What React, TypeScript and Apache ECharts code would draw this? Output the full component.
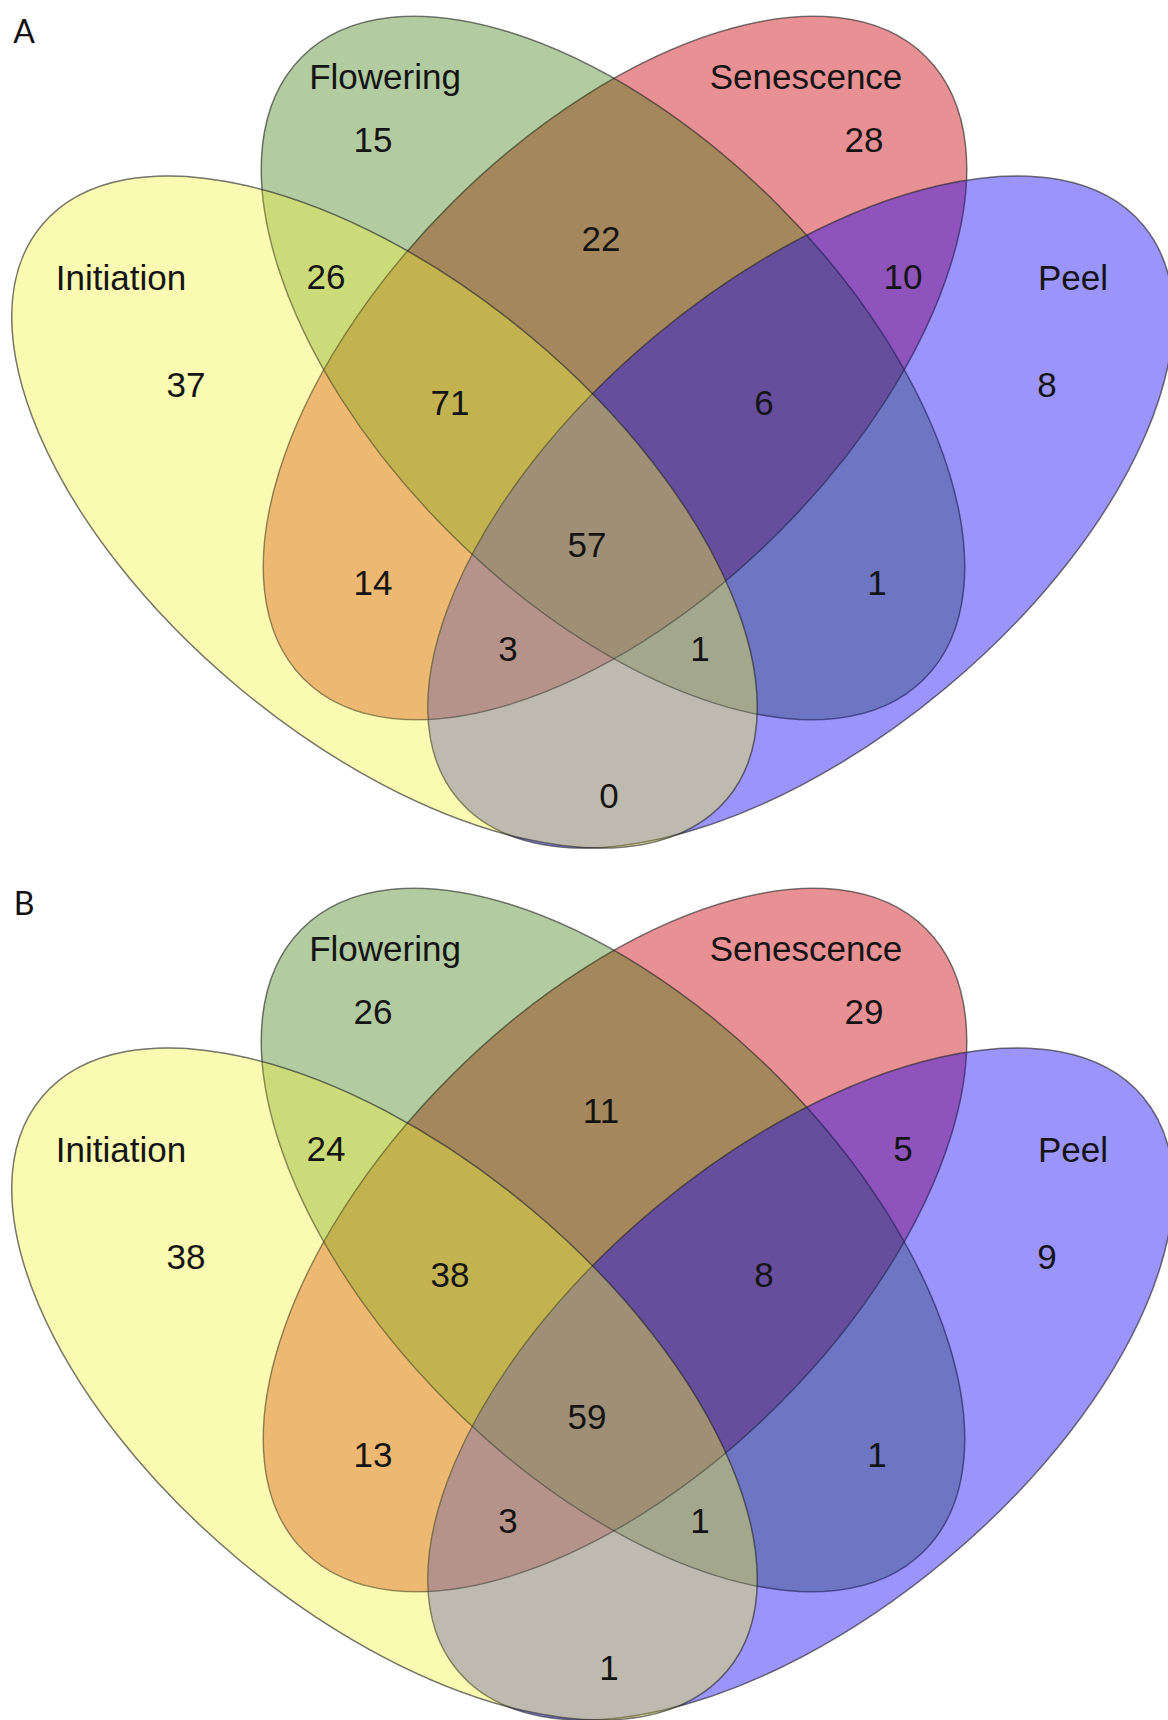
import React, { useEffect, useRef } from "react";
import * as echarts from "echarts";

// ---- Data ----
const setNames = ["Initiation", "Flowering", "Senescence", "Peel"];
const regionNames = [
  "Initiation only",
  "Flowering only",
  "Senescence only",
  "Peel only",
  "Initiation & Flowering",
  "Flowering & Senescence",
  "Senescence & Peel",
  "Initiation & Flowering & Senescence",
  "Flowering & Senescence & Peel",
  "All four",
  "Initiation & Senescence",
  "Flowering & Peel",
  "Initiation & Senescence & Peel",
  "Initiation & Flowering & Peel",
  "Initiation & Peel",
];
const countsA = [37, 15, 28, 8, 26, 22, 10, 71, 6, 57, 14, 1, 3, 1, 0];
const countsB = [38, 26, 29, 9, 24, 11, 5, 38, 8, 59, 13, 1, 3, 1, 1];
const panelLabels = ["A", "B"];

// ---- Layout (pixels, relative to each panel's top) ----
const panelOffsets = [0, 872];
const panelLabelPos = [24, 30];
const regionPos = [
  [186, 384],
  [373, 139],
  [864, 139],
  [1047, 384],
  [326, 276],
  [601, 238],
  [903, 276],
  [450, 402],
  [764, 402],
  [587, 544],
  [373, 582],
  [877, 582],
  [508, 648],
  [700, 648],
  [609, 795],
];
const setLabelPos = [
  [121, 277],
  [385, 76],
  [806, 76],
  [1073, 277],
];
// ellipse geometry per set (same order as setNames)
const ellipses = [
  { cx: 384.5, cy: 512, rx: 446.8, ry: 228.1, rot: -39.95 },
  { cx: 613, cy: 368, rx: 440, ry: 232, rot: -45 },
  { cx: 615, cy: 368, rx: 440, ry: 232, rot: 45 },
  { cx: 800.5, cy: 512, rx: 446.8, ry: 228.1, rot: 39.95 },
];
const fills = [
  "rgba(242,242,62,0.40)",
  "rgba(52,118,5,0.38)",
  "rgba(209,35,41,0.50)",
  "rgba(17,0,243,0.42)",
];
const drawOrder = [2, 1, 3, 0];
const textFont = "Liberation Sans, Arial, sans-serif";

export default function App() {
  const ref = useRef<HTMLDivElement>(null);
  useEffect(() => {
    const chart = echarts.init(ref.current as HTMLDivElement, null, { renderer: "svg" });
    const elements: any[] = [];
    panelOffsets.forEach((oy, p) => {
      const counts = p === 0 ? countsA : countsB;
      drawOrder.forEach((i) => {
        const e = ellipses[i];
        elements.push({
          type: "ellipse",
          x: e.cx,
          y: e.cy + oy,
          rotation: (e.rot * Math.PI) / 180,
          shape: { cx: 0, cy: 0, rx: e.rx, ry: e.ry },
          style: { fill: fills[i], stroke: "rgba(40,40,40,0.45)", lineWidth: 1.5 },
          silent: true,
        });
      });
      drawOrder.forEach((i) => {
        const e = ellipses[i];
        elements.push({
          type: "ellipse",
          x: e.cx,
          y: e.cy + oy,
          rotation: (e.rot * Math.PI) / 180,
          shape: { cx: 0, cy: 0, rx: e.rx, ry: e.ry },
          style: { fill: "none", stroke: "rgba(40,40,40,0.35)", lineWidth: 1.2 },
          silent: true,
        });
      });
      setNames.forEach((name, i) => {
        elements.push({
          type: "text",
          x: setLabelPos[i][0],
          y: setLabelPos[i][1] + oy,
          style: {
            text: name,
            fill: "#141414",
            fontSize: 35,
            fontFamily: textFont,
            align: "center",
            verticalAlign: "middle",
          },
          silent: true,
        });
      });
      regionNames.forEach((_, r) => {
        elements.push({
          type: "text",
          x: regionPos[r][0],
          y: regionPos[r][1] + oy,
          style: {
            text: String(counts[r]),
            fill: "#141414",
            fontSize: 35,
            fontFamily: textFont,
            align: "center",
            verticalAlign: "middle",
          },
          silent: true,
        });
      });
      elements.push({
        type: "text",
        x: panelLabelPos[0],
        y: panelLabelPos[1] + oy,
        style: {
          text: panelLabels[p],
          fill: "#111",
          fontSize: 32,
          fontFamily: "Lato, Open Sans, sans-serif",
          align: "center",
          verticalAlign: "middle",
        },
        silent: true,
      });
    });
    chart.setOption({ animation: false, backgroundColor: "#ffffff", graphic: { elements } });
    return () => chart.dispose();
  }, []);
  return (
    <div
      ref={ref}
      style={{ position: "absolute", left: 0, top: 0, width: 1168, height: 1720, background: "#fff" }}
    />
  );
}
